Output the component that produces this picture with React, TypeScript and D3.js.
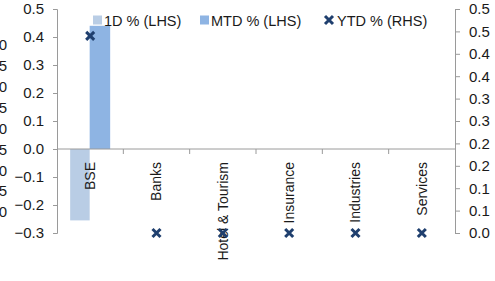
import React, { useRef, useEffect } from 'react';
import * as d3 from 'd3';

// chart values
const categories = ['BSE', 'Banks', 'Hotel & Tourism', 'Insurance', 'Industries', 'Services'];
const oneDay = [-0.255, 0, 0, 0, 0, 0];
const mtd = [0.44, 0, 0, 0, 0, 0];
const ytd = [0.44, 0, 0, 0, 0, 0];

const leftTicks = [0.5, 0.4, 0.3, 0.2, 0.1, 0.0, -0.1, -0.2, -0.3];
const rightTicks = [0.5, 0.45, 0.4, 0.35, 0.3, 0.25, 0.2, 0.15, 0.1, 0.05, 0.0];
const rightTickLabels = ['0.5', '0.5', '0.4', '0.4', '0.3', '0.3', '0.2', '0.2', '0.1', '0.1', '0.0'];
// stray label column clipped at the left edge
const hiddenTicks = [0.4, 0.35, 0.3, 0.25, 0.2, 0.15, 0.1, 0.05, 0.0];
const hiddenTickLabels = ['0.40', '0.35', '0.30', '0.25', '0.20', '0.15', '0.10', '0.05', '0.00'];
const legendLabels = ['1D % (LHS)', 'MTD % (LHS)', 'YTD % (RHS)'];

const colors = { oneDay: '#b9cde5', mtd: '#8eb4e3', ytd: '#1f3f6e', axis: '#9a9a9a', text: '#1a1a1a' };

const App: React.FC = () => {
  const svgRef = useRef<SVGSVGElement>(null);

  useEffect(() => {
    if (!svgRef.current) return;
    const width = 495;
    const height = 281;
    const svg = d3.select(svgRef.current);
    svg.selectAll('*').remove();

    const font = 'Liberation Sans, Arial, sans-serif';
    const plot = { left: 57, right: 455, top: 9, bottom: 233 };

    const x = d3.scaleBand<string>().domain(categories).range([plot.left, plot.right]);
    const yL = d3.scaleLinear().domain([-0.3, 0.5]).range([plot.bottom, plot.top]);
    const yR = d3.scaleLinear().domain([0, 0.5]).range([plot.bottom, plot.top]);
    const yH = d3.scaleLinear().domain([0, 0.4]).range([212, 45]);

    // bars
    const barW = 19.5;
    const bars = svg.append('g');
    categories.forEach((c, i) => {
      const cx = x(c)! + x.bandwidth() / 2;
      const v1 = oneDay[i];
      const v2 = mtd[i];
      if (v1 !== 0) {
        bars.append('rect')
          .attr('x', cx - barW - 0.5)
          .attr('width', barW)
          .attr('y', Math.min(yL(v1), yL(0)))
          .attr('height', Math.abs(yL(v1) - yL(0)))
          .attr('fill', colors.oneDay);
      }
      if (v2 !== 0) {
        bars.append('rect')
          .attr('x', cx - 0.5)
          .attr('width', barW + 1)
          .attr('y', Math.min(yL(v2), yL(0)))
          .attr('height', Math.abs(yL(v2) - yL(0)))
          .attr('fill', colors.mtd);
      }
    });

    // left axis
    const gl = svg.append('g').attr('transform', `translate(${plot.left},0)`);
    gl.call(d3.axisLeft(yL).tickValues(leftTicks).tickSize(4).tickSizeOuter(4).tickFormat(d3.format('.1f')).tickPadding(9));
    gl.selectAll('path,line').attr('stroke', colors.axis);
    gl.selectAll('text').attr('font-family', font).attr('font-size', 15).attr('fill', colors.text);

    // right axis
    const gr = svg.append('g').attr('transform', `translate(${plot.right},0)`);
    gr.call(d3.axisRight(yR).tickValues(rightTicks).tickSize(5).tickSizeOuter(5)
      .tickFormat((_, i) => rightTickLabels[i]).tickPadding(9));
    gr.selectAll('path,line').attr('stroke', colors.axis);
    gr.selectAll('text').attr('font-family', font).attr('font-size', 15).attr('fill', colors.text);

    // category axis at zero
    const gx = svg.append('g').attr('transform', `translate(0,${yL(0)})`);
    gx.append('line').attr('x1', plot.left).attr('x2', plot.right).attr('stroke', colors.axis);
    categories.forEach((c, i) => {
      if (i > 0) {
        gx.append('line').attr('x1', x(c)!).attr('x2', x(c)!).attr('y1', 0).attr('y2', 5).attr('stroke', colors.axis);
      }
      gx.append('text')
        .attr('transform', `translate(${x(c)! + x.bandwidth() / 2},13) rotate(-90)`)
        .attr('text-anchor', 'end')
        .attr('dy', '0.35em')
        .attr('font-family', font)
        .attr('font-size', 14)
        .attr('fill', colors.text)
        .text(c);
    });

    // YTD markers
    const marker = (g: d3.Selection<SVGGElement, unknown, null, undefined>, cx: number, cy: number) => {
      const s = 4;
      g.append('path')
        .attr('d', `M${cx - s},${cy - s}L${cx + s},${cy + s}M${cx - s},${cy + s}L${cx + s},${cy - s}`)
        .attr('stroke', colors.ytd)
        .attr('stroke-width', 3)
        .attr('fill', 'none');
    };
    const gm = svg.append('g');
    categories.forEach((c, i) => {
      marker(gm, x(c)! + x.bandwidth() / 2, yR(ytd[i]));
    });

    // clipped label column at the far left
    hiddenTicks.forEach((v, i) => {
      svg.append('text')
        .attr('x', 7)
        .attr('y', yH(v))
        .attr('dy', '0.35em')
        .attr('text-anchor', 'end')
        .attr('font-family', font)
        .attr('font-size', 15)
        .attr('fill', colors.text)
        .text(hiddenTickLabels[i]);
    });

    // legend
    const lg = svg.append('g').attr('font-family', font).attr('font-size', 14.5).attr('fill', colors.text);
    lg.append('rect').attr('x', 93).attr('y', 15.5).attr('width', 9).attr('height', 9).attr('fill', colors.oneDay);
    lg.append('text').attr('x', 104).attr('y', 25.5).text(legendLabels[0]);
    lg.append('rect').attr('x', 200).attr('y', 15.5).attr('width', 9).attr('height', 9).attr('fill', colors.mtd);
    lg.append('text').attr('x', 211).attr('y', 25.5).text(legendLabels[1]);
    marker(lg as any, 329, 20);
    lg.append('text').attr('x', 337).attr('y', 25.5).text(legendLabels[2]);

    svg.attr('width', width).attr('height', height);
  }, []);

  return (
    <div style={{ position: 'fixed', left: 0, top: 0, width: 495, height: 281, background: '#fff' }}>
      <svg ref={svgRef} width={495} height={281} style={{ display: 'block' }} />
    </div>
  );
};

export default App;
